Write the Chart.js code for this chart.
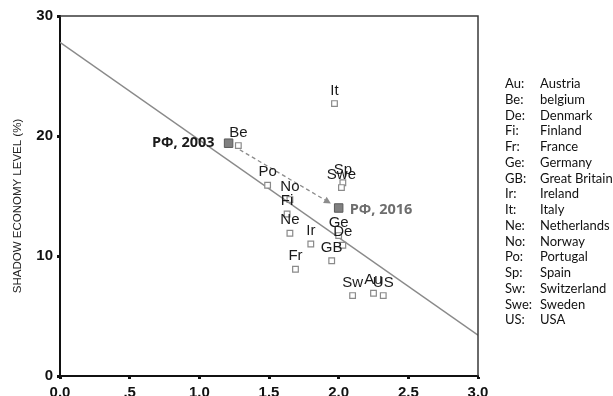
<!DOCTYPE html>
<html>
<head>
<meta charset="utf-8">
<script src="https://cdn.jsdelivr.net/npm/chart.js@4.4.1/dist/chart.umd.min.js"></script>
<style>
  html, body { margin: 0; padding: 0; background: #fff; }
  .wrap { position: relative; width: 613px; height: 396px; }
  .key { position: absolute; left: 505px; top: 76px; font-family: Lato, "Liberation Sans", sans-serif; font-size: 13px; color: #111; }
  .key div { height: 15.75px; line-height: 15.75px; white-space: nowrap; }
  .key span { display: inline-block; width: 35px; }
</style>
</head>
<body>
<div class="wrap">
  <canvas id="myChart" width="613" height="396"></canvas>
  <div class="key"></div>
</div>
<script>
// countries: short code, full name, x value, shadow economy level
const codes = ['Au', 'Be', 'De', 'Fi', 'Fr', 'Ge', 'GB', 'Ir', 'It', 'Ne', 'No', 'Po', 'Sp', 'Sw', 'Swe', 'US'];
const names = ['Austria', 'belgium', 'Denmark', 'Finland', 'France', 'Germany', 'Great Britain', 'Ireland', 'Italy', 'Netherlands', 'Norway', 'Portugal', 'Spain', 'Switzerland', 'Sweden', 'USA'];
const xVals = [2.25, 1.28, 2.03, 1.63, 1.69, 2.0, 1.95, 1.8, 1.97, 1.65, 1.65, 1.49, 2.03, 2.1, 2.02, 2.32];
const yVals = [6.9, 19.2, 10.9, 13.5, 8.9, 11.7, 9.6, 11.0, 22.7, 11.9, 14.7, 15.9, 16.1, 6.7, 15.7, 6.7];

// Russia in two years
const ruLabels = ['РФ, 2003', 'РФ, 2016'];
const ruX = [1.21, 2.0];
const ruY = [19.4, 14.0];

// fitted line end points
const fitX = [0, 3];
const fitY = [27.8, 3.4];

const xTicks = [0, 0.5, 1, 1.5, 2, 2.5, 3];
const yTicks = [0, 10, 20, 30];
const yTitle = 'SHADOW ECONOMY LEVEL (%)';

// key on the right
const keyDiv = document.querySelector('.key');
codes.forEach((c, i) => {
    const row = document.createElement('div');
    row.innerHTML = '<span>' + c + ':</span>' + names[i];
    keyDiv.appendChild(row);
});

const pointLabels = {
    id: 'pointLabels',
    afterDatasetsDraw(chart) {
        const ctx = chart.ctx;
        const area = chart.chartArea;
        const xs = chart.scales.x, ys = chart.scales.y;
        ctx.save();

        // frame top and right
        ctx.strokeStyle = '#3a3a3a';
        ctx.lineWidth = 1.5;
        ctx.beginPath();
        ctx.moveTo(area.left, area.top);
        ctx.lineTo(area.right, area.top);
        ctx.lineTo(area.right, area.bottom);
        ctx.stroke();

        // y title, sits a bit below the middle
        ctx.save();
        ctx.translate(18, ys.getPixelForValue(15) + 10);
        ctx.rotate(-Math.PI / 2);
        ctx.font = '11.5px "Liberation Sans", Arial, sans-serif';
        ctx.fillStyle = '#222';
        ctx.textAlign = 'center';
        ctx.textBaseline = 'middle';
        ctx.fillText(yTitle, 0, 0);
        ctx.restore();

        // dashed arrow 2003 -> 2016
        const x0 = xs.getPixelForValue(ruX[0]), y0 = ys.getPixelForValue(ruY[0]);
        const x1 = xs.getPixelForValue(ruX[1]), y1 = ys.getPixelForValue(ruY[1]);
        const len = Math.hypot(x1 - x0, y1 - y0);
        const ux = (x1 - x0) / len, uy = (y1 - y0) / len;
        const sx = x0 + ux * 13, sy = y0 + uy * 13;
        const ex = x1 - ux * 9, ey = y1 - uy * 9;
        ctx.strokeStyle = '#8c8c8c';
        ctx.fillStyle = '#8c8c8c';
        ctx.lineWidth = 1.3;
        ctx.setLineDash([4, 3]);
        ctx.beginPath();
        ctx.moveTo(sx, sy);
        ctx.lineTo(ex - ux * 4, ey - uy * 4);
        ctx.stroke();
        ctx.setLineDash([]);
        ctx.beginPath();
        ctx.moveTo(ex, ey);
        ctx.lineTo(ex - ux * 7 - uy * 3.5, ey - uy * 7 + ux * 3.5);
        ctx.lineTo(ex - ux * 7 + uy * 3.5, ey - uy * 7 - ux * 3.5);
        ctx.closePath();
        ctx.fill();

        // country codes over the points
        ctx.font = '15px "Liberation Sans", Arial, sans-serif';
        ctx.fillStyle = '#1a1a1a';
        ctx.textAlign = 'center';
        ctx.textBaseline = 'middle';
        codes.forEach((c, i) => {
            ctx.fillText(c, xs.getPixelForValue(xVals[i]), ys.getPixelForValue(yVals[i]) - 13);
        });

        // Russia labels
        ctx.font = 'bold 14.5px "Open Sans", "Liberation Sans", sans-serif';
        ctx.fillStyle = '#1a1a1a';
        ctx.textAlign = 'right';
        ctx.fillText(ruLabels[0], x0 - 14, y0);
        ctx.fillStyle = '#6e6e6e';
        ctx.textAlign = 'left';
        ctx.fillText(ruLabels[1], x1 + 11, y1 + 2);
        ctx.restore();
    }
};

const ctx = document.getElementById('myChart');
const chart = new Chart(ctx, {
    type: 'scatter',
    data: {
        datasets: [{
            label: 'fit',
            type: 'line',
            data: fitX.map((x, i) => ({ x: x, y: fitY[i] })),
            borderColor: '#8a8a8a',
            borderWidth: 1.4,
            pointRadius: 0,
            order: 3
        }, {
            label: 'countries',
            data: xVals.map((x, i) => ({ x: x, y: yVals[i] })),
            pointStyle: 'rect',
            pointRadius: 4,
            borderWidth: 1.2,
            borderColor: '#8a8a8a',
            backgroundColor: '#ffffff',
            order: 2
        }, {
            label: 'Russia',
            data: ruX.map((x, i) => ({ x: x, y: ruY[i] })),
            pointStyle: 'rect',
            pointRadius: 6,
            borderWidth: 1,
            borderColor: '#5a5a5a',
            backgroundColor: '#808080',
            order: 1
        }]
    },
    options: {
        responsive: false,
        animation: false,
        events: [],
        layout: { padding: { top: 16, right: 135, left: 0, bottom: 0 } },
        plugins: {
            legend: { display: false },
            tooltip: { enabled: false }
        },
        scales: {
            x: {
                type: 'linear',
                min: 0,
                max: 3,
                afterBuildTicks: (scale) => { scale.ticks = xTicks.map(v => ({ value: v })); },
                afterFit: (scale) => { scale.height = 20; },
                border: { color: '#111', width: 2 },
                grid: { drawOnChartArea: false, tickLength: 3, tickWidth: 3, tickColor: '#111' },
                ticks: {
                    padding: 5,
                    color: '#111',
                    font: { family: '"Liberation Sans", Arial', size: 15, weight: 'bold' },
                    callback: (v) => v === 0.5 ? '.5' : v.toFixed(1)
                }
            },
            y: {
                min: 0,
                max: 30,
                afterBuildTicks: (scale) => { scale.ticks = yTicks.map(v => ({ value: v })); },
                afterFit: (scale) => { scale.width = 60; },
                border: { color: '#111', width: 2 },
                grid: { drawOnChartArea: false, tickLength: 3, tickWidth: 3, tickColor: '#111' },
                ticks: {
                    padding: 4,
                    color: '#111',
                    font: { family: '"Liberation Sans", Arial', size: 15, weight: 'bold' }
                }
            }
        }
    },
    plugins: [pointLabels]
});
</script>
</body>
</html>
